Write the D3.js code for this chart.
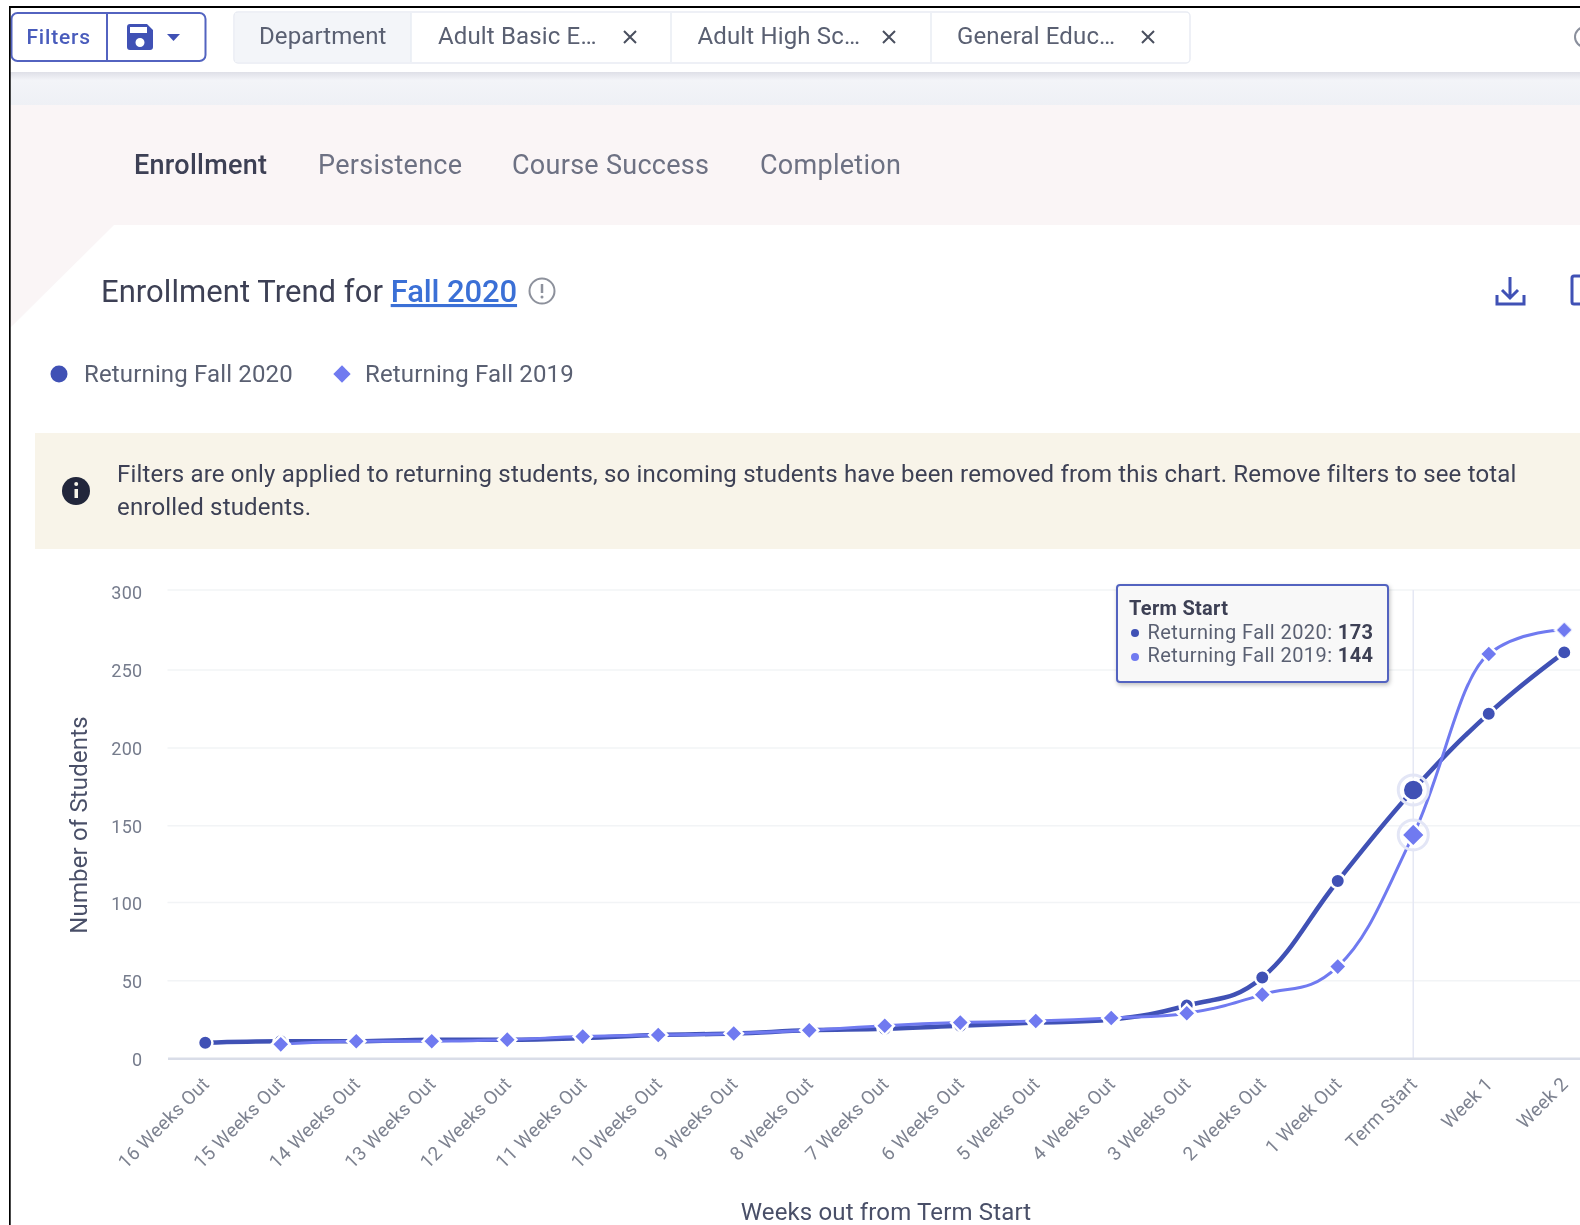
<!DOCTYPE html>
<html>
    <head>
        <script src="https://d3js.org/d3.v7.min.js"></script>
        <style>
            html, body { margin: 0; padding: 0; background: #fff; overflow: hidden; }
            svg { display: block; }
            text { font-family: Roboto, sans-serif; }
        </style>
    </head>
    <body>
        <svg height="1225" width="1580" id="page"></svg>
        <script>
            // chart values
            const weeks=["16 Weeks Out","15 Weeks Out","14 Weeks Out","13 Weeks Out","12 Weeks Out","11 Weeks Out","10 Weeks Out","9 Weeks Out","8 Weeks Out","7 Weeks Out","6 Weeks Out","5 Weeks Out","4 Weeks Out","3 Weeks Out","2 Weeks Out","1 Week Out","Term Start","Week 1","Week 2"];
            const fall2020=[10,11,11,12,12,13,15,16,18,19,21,23,25,34,52,114,173,222,261];
            const fall2019=[null,9,11,11,12,14,15,16,18,21,23,24,26,29,41,59,144,260,275];
            const yTicks=[0,50,100,150,200,250,300];
            const tabs=["Enrollment","Persistence","Course Success","Completion"];
            const chips=["Adult Basic E\u2026","Adult High Sc\u2026","General Educ\u2026"];
            const name2020="Returning Fall 2020";
            const name2019="Returning Fall 2019";
            const hoverWeek="Term Start";

            const dark="#3f51b5";
            const light="#6f7af0";
            const outline="#5264c0";

            let svg=d3.select("#page");
            let defs=svg.append("defs");
            let shadow=defs.append("filter").attr("id","shadow").attr("x","-10%").attr("y","-10%").attr("width","120%").attr("height","125%");
            shadow.append("feDropShadow").attr("dx",1).attr("dy",2).attr("stdDeviation",2).attr("flood-color","#000").attr("flood-opacity",0.25);
            let soft=defs.append("filter").attr("id","soft").attr("x","-2%").attr("y","-2%").attr("width","104%").attr("height","104%");
            soft.append("feGaussianBlur").attr("stdDeviation",0.5);
            let band=defs.append("linearGradient").attr("id","band").attr("x1",0).attr("x2",0).attr("y1",0).attr("y2",1);
            band.append("stop").attr("offset",0).attr("stop-color","#dedfe7");
            band.append("stop").attr("offset",0.24).attr("stop-color","#f3f4f8");
            band.append("stop").attr("offset",1).attr("stop-color","#eef0f5");

            let page=svg.append("g").attr("filter","url(#soft)");

            const rect=(x,y,w,h,fill)=>page.append("rect").attr("x",x).attr("y",y).attr("width",w).attr("height",h).attr("fill",fill);
            const label=(parent,str,x,y,size,color,weight,spacing)=>parent.append("text").attr("x",x).attr("y",y)
                .attr("font-size",size).attr("fill",color).attr("font-weight",weight||400).attr("letter-spacing",spacing||0).text(str);

            // page background bands
            rect(0,0,1580,1225,"#fff");
            rect(10,72,1570,34,"url(#band)");
            rect(10,105,1570,120,"#faf5f6");
            page.append("path").attr("d","M10 225H114L10 328Z").attr("fill","#faf5f6");

            // filter button
            page.append("rect").attr("x",11.5).attr("y",13).attr("width",194).attr("height",48).attr("rx",6)
                .attr("fill","#fff").attr("stroke",outline).attr("stroke-width",2);
            page.append("line").attr("x1",107).attr("x2",107).attr("y1",13).attr("y2",61).attr("stroke",outline).attr("stroke-width",2);
            label(page,"Filters",26.5,43.5,21,"#4a5cbc",500,0.8);
            page.append("path").attr("fill",dark).attr("fill-rule","evenodd")
                .attr("d","M130 24H147L153 30V47Q153 50 150 50H130Q127 50 127 47V27Q127 24 130 24ZM130 27V33H147V27ZM140 38A4.5 4.5 0 1 0 140 47A4.5 4.5 0 1 0 140 38Z");
            page.append("path").attr("d","M167 34H180L173.5 41Z").attr("fill",dark);

            // filter chips
            page.append("rect").attr("x",234).attr("y",12).attr("width",956).attr("height",51).attr("rx",4)
                .attr("fill","#fff").attr("stroke","#e9ecf3").attr("stroke-width",1.5);
            rect(235,13,176,49,"#f3f5f9");
            label(page,"Department",259,44,24,"#5a6072",400,0.1);
            const chipX=[438,697.5,957];
            const closeX=[630,889,1148];
            chips.forEach((c,i)=>{
                label(page,c,chipX[i],44,24,"#5a6072",400,0.15);
                page.append("path").attr("d",`M${closeX[i]-6} 31L${closeX[i]+6} 43M${closeX[i]+6} 31L${closeX[i]-6} 43`)
                    .attr("stroke","#4a4f5e").attr("stroke-width",2);
                page.append("line").attr("x1",[411,671,931][i]).attr("x2",[411,671,931][i]).attr("y1",13).attr("y2",62).attr("stroke","#e9ecf3").attr("stroke-width",1.5);
            });
            // bit of a round icon cut off at the right edge
            page.append("circle").attr("cx",1585).attr("cy",37).attr("r",10).attr("fill","none").attr("stroke","#8a8f9c").attr("stroke-width",2);

            // tabs
            const tabX=[134,318,512,760];
            tabs.forEach((t,i)=>label(page,t,tabX[i],174,27,i==0?"#3d4154":"#6d7183",i==0?500:400,0.28));

            // title
            let title=label(page,"Enrollment Trend for ",101,302,31,"#3d4154",400,0.05).attr("xml:space","preserve");
            title.append("tspan").attr("fill","#3b6fd6").attr("font-weight",500).attr("letter-spacing",-0.1).attr("text-decoration","underline").text("Fall 2020");
            page.append("circle").attr("cx",542).attr("cy",291).attr("r",12.5).attr("fill","none").attr("stroke","#8d919c").attr("stroke-width",2);
            page.append("line").attr("x1",542).attr("x2",542).attr("y1",284).attr("y2",293).attr("stroke","#8d919c").attr("stroke-width",2.5);
            page.append("circle").attr("cx",542).attr("cy",297).attr("r",1.5).attr("fill","#8d919c");

            // toolbar icons
            page.append("path").attr("fill","none").attr("stroke",dark).attr("stroke-width",3)
                .attr("d","M1510 277V298M1502 290L1510 298L1518 290M1497 295V304H1524V295");
            page.append("path").attr("fill","none").attr("stroke",dark).attr("stroke-width",3)
                .attr("d","M1585 276H1574Q1572 276 1572 278V302Q1572 304 1574 304H1585");

            // legend
            page.append("circle").attr("cx",59).attr("cy",374).attr("r",8.5).attr("fill",dark);
            label(page,name2020,84,382,24,"#5a6072",400,0.15);
            page.append("path").attr("transform","translate(342,374) rotate(45)").attr("d",d3.symbol().type(d3.symbolSquare).size(150)()).attr("fill",light);
            label(page,name2019,365,382,24,"#5a6072",400,0.15);

            // banner
            rect(35,433,1545,116,"#f8f4e9");
            page.append("circle").attr("cx",76).attr("cy",491).attr("r",14).attr("fill","#20263a");
            page.append("rect").attr("x",74.5).attr("y",489).attr("width",3.5).attr("height",9).attr("fill","#f8f4e9");
            page.append("circle").attr("cx",76.2).attr("cy",484).attr("r",2).attr("fill","#f8f4e9");
            label(page,"Filters are only applied to returning students, so incoming students have been removed from this chart. Remove filters to see total",117,482,24,"#3d4154",400,0.18);
            label(page,"enrolled students.",117,515,24,"#3d4154",400,0.18);

            // chart
            let x=d3.scaleBand().domain(weeks).range([167.5,1602]);
            // the gridlines in the picture are not quite evenly spaced, so the range follows them
            let y=d3.scaleLinear().domain(yTicks).range([1058.3,980.7,902.5,825.7,748,670,590]);
            // the tick labels are evenly spaced though
            let yLabels=d3.scaleLinear().domain([0,300]).range([1059,592.3]);
            const px=d=>x(d)+x.bandwidth()/2;
            let chart=page.append("g");

            chart.selectAll(".grid").data(yTicks.filter(d=>d>0)).join("line").attr("class","grid")
                .attr("x1",167.5).attr("x2",1580).attr("y1",d=>y(d)).attr("y2",d=>y(d))
                .attr("stroke","#f2f4f6").attr("stroke-width",1.5);

            let yAxis=chart.append("g").attr("transform","translate(142.5,0)")
                .call(d3.axisLeft(yLabels).tickValues(yTicks).tickSize(0).tickPadding(0));
            yAxis.select(".domain").remove();
            yAxis.selectAll("text").attr("font-size",18).attr("font-family","Roboto").attr("fill","#757b8c").attr("letter-spacing",0.3).attr("dy","0.36em");

            chart.append("line").attr("x1",px(hoverWeek)).attr("x2",px(hoverWeek)).attr("y1",590).attr("y2",1058)
                .attr("stroke","#e5e8f4").attr("stroke-width",1.5);

            let xAxis=chart.append("g").attr("transform","translate(0,1058.3)")
                .call(d3.axisBottom(x).tickSize(0).tickPadding(0));
            xAxis.select(".domain").attr("stroke","#d9dde8").attr("stroke-width",2.5);
            xAxis.selectAll("text").attr("font-size",19).attr("font-family","Roboto").attr("fill","#7d8290")
                .attr("text-anchor","end").attr("dy",0).attr("y",0).attr("letter-spacing",0.2)
                .attr("transform","translate(5,27) rotate(-45)");

            chart.append("text").attr("transform","translate(87,825) rotate(-90)").attr("text-anchor","middle")
                .attr("font-size",24).attr("letter-spacing",0.15).attr("fill","#4a5068").text("Number of Students");
            chart.append("text").attr("x",886).attr("y",1220).attr("text-anchor","middle")
                .attr("font-size",24).attr("letter-spacing",0.15).attr("fill","#4a5068").text("Weeks out from Term Start");

            // spline: handles are 0.4 of the gap and get clamped so the curve never overshoots a point
            const spline=function(pts){
                let path=d3.path();
                let conts=pts.map((p,i)=>{
                    let c={lx:p[0],ly:p[1],rx:p[0],ry:p[1]};
                    if(i>0 && i<pts.length-1){
                        let a=pts[i-1], b=pts[i+1];
                        c.lx=(1.5*p[0]+a[0])/2.5; c.ly=(1.5*p[1]+a[1])/2.5;
                        c.rx=(1.5*p[0]+b[0])/2.5; c.ry=(1.5*p[1]+b[1])/2.5;
                        let correction=(c.ry-c.ly)*(c.rx-p[0])/(c.rx-c.lx)+p[1]-c.ry;
                        c.ly+=correction; c.ry+=correction;
                        if((c.ly>a[1] && c.ly>p[1]) || (c.ly<a[1] && c.ly<p[1])){
                            c.ly=c.ly>p[1]?Math.max(a[1],p[1]):Math.min(a[1],p[1]);
                            c.ry=2*p[1]-c.ly;
                        }
                        if((c.ry>b[1] && c.ry>p[1]) || (c.ry<b[1] && c.ry<p[1])){
                            c.ry=c.ry>p[1]?Math.max(b[1],p[1]):Math.min(b[1],p[1]);
                            c.ly=2*p[1]-c.ry;
                        }
                    }
                    return c;
                });
                pts.forEach((p,i)=>{
                    if(i==0) path.moveTo(p[0],p[1]);
                    else path.bezierCurveTo(conts[i-1].rx,conts[i-1].ry,conts[i].lx,conts[i].ly,p[0],p[1]);
                });
                return path.toString();
            };

            // lines and markers
            const diamond=d3.symbol().type(d3.symbolSquare);
            const draw=(values,color,width,isDiamond)=>{
                let valid=weeks.map((w,i)=>[w,values[i]]).filter(d=>d[1]!=null);
                chart.append("path").attr("d",spline(valid.map(d=>[px(d[0]),y(d[1])])))
                    .attr("fill","none").attr("stroke",color).attr("stroke-width",width);
                let marks;
                if(isDiamond){
                    marks=chart.selectAll(".m"+color.slice(1)).data(valid).join("path")
                        .attr("transform",d=>`translate(${px(d[0])},${y(d[1])}) rotate(45)`)
                        .attr("d",d=>diamond.size(d[0]==hoverWeek?280:165)());
                }else{
                    marks=chart.selectAll(".m"+color.slice(1)).data(valid).join("circle")
                        .attr("cx",d=>px(d[0])).attr("cy",d=>y(d[1]))
                        .attr("r",d=>d[0]==hoverWeek?10.5:7.2);
                }
                marks.attr("fill",color).attr("stroke","#fff").attr("stroke-width",2.5);
            };
            draw(fall2020,dark,4.5,false);
            draw(fall2019,light,3,true);

            // halos on the hovered point
            const hoverIdx=weeks.indexOf(hoverWeek);
            [fall2020[hoverIdx],fall2019[hoverIdx]].forEach(v=>{
                chart.append("circle").attr("cx",px(hoverWeek)).attr("cy",y(v)).attr("r",15)
                    .attr("fill","none").attr("stroke","#e3e6f6").attr("stroke-width",3);
            });

            // tooltip
            let tip=chart.append("g");
            tip.append("rect").attr("x",1117).attr("y",585).attr("width",271).attr("height",97).attr("rx",3)
                .attr("fill","#f8f8f8").attr("stroke",outline).attr("stroke-width",2).attr("filter","url(#shadow)");
            label(tip,hoverWeek,1129,615,20,"#3d4154",700,0.3);
            let row1=label(tip,name2020+": ",1147.5,639,20,"#5a6072",400,0.42).attr("xml:space","preserve");
            row1.append("tspan").attr("font-weight",700).attr("fill","#3d4154").text(fall2020[hoverIdx]);
            let row2=label(tip,name2019+": ",1147.5,662,20,"#5a6072",400,0.42).attr("xml:space","preserve");
            row2.append("tspan").attr("font-weight",700).attr("fill","#3d4154").text(fall2019[hoverIdx]);
            tip.append("circle").attr("cx",1135).attr("cy",633).attr("r",4).attr("fill",dark);
            tip.append("circle").attr("cx",1135).attr("cy",657).attr("r",4).attr("fill",light);

            // screenshot border
            svg.append("rect").attr("x",0).attr("y",0).attr("width",1580).attr("height",6).attr("fill","#fff");
            svg.append("rect").attr("x",0).attr("y",6).attr("width",9).attr("height",1219).attr("fill","#fff");
            svg.append("rect").attr("x",9).attr("y",6).attr("width",1571).attr("height",2).attr("fill","#000");
            svg.append("rect").attr("x",9).attr("y",6).attr("width",1.7).attr("height",1219).attr("fill","#000");
        </script>
    </body>
</html>
